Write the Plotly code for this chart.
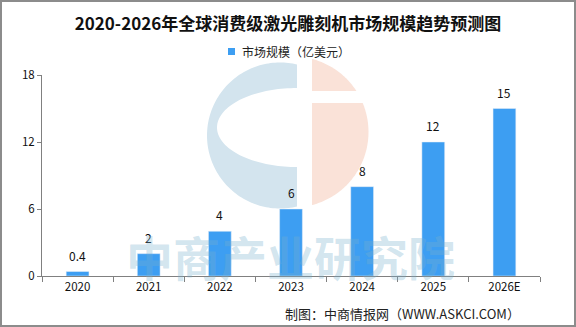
import numpy as np
import plotly.graph_objects as go

# Market size data (亿美元)
years = ["2020", "2021", "2022", "2023", "2024", "2025", "2026E"]
market_size = [0.4, 2, 4, 6, 8, 12, 15]
y_ticks = [0, 6, 12, 18]

title_text = "2020-2026年全球消费级激光雕刻机市场规模趋势预测图"
series_name = "市场规模（亿美元）"
source_text = "制图：中商情报网（WWW.ASKCI.COM）"
watermark_text = "中商产业研究院"

W, H = 576, 327
ML, MR, MT, MB = 42, 36, 75, 51
PW, PH = W - ML - MR, H - MT - MB
BAR_COLOR = "#3d9ef2"
FONT = "Noto Sans CJK SC"


def px(x):
    """pixel x -> paper x"""
    return (x - ML) / PW


def py(y):
    """pixel y -> paper y"""
    return (H - MB - y) / PH


def path_from(points, close=True):
    s = "M " + " L ".join(f"{px(x):.5f},{py(y):.5f}" for x, y in points)
    return s + (" Z" if close else "")


fig = go.Figure()
fig.add_trace(go.Bar(
    x=years, y=market_size, marker_color=BAR_COLOR,
    name=series_name, showlegend=False,
))

shapes = []

# background logo: blue "C" with elliptical cut-out
cx, cy, r = 280, 135.5, 73
a = np.degrees(np.arccos((297 - cx) / r))
phi = np.radians(np.linspace(a, 360 - a, 120))
outer = [(cx + r * np.cos(t), cy - r * np.sin(t)) for t in phi]
phi_in = np.radians(np.linspace(90, 270, 80))
inner = [(297 + 80 * np.cos(t), 127.5 - 39.5 * np.sin(t)) for t in phi_in]
shapes.append(dict(type="path", xref="paper", yref="paper", layer="below",
                   path=path_from(outer) + " " + path_from(inner),
                   fillrule="evenodd", fillcolor="#d3e4ee", line_width=0))

# background logo: peach half disc with a horizontal gap
pcx, pcy, pr = 293, 132, 75.5
b = np.degrees(np.arccos((312 - pcx) / pr))
phi_p = np.radians(np.linspace(b, -b, 120))
pink = [(pcx + pr * np.cos(t), pcy - pr * np.sin(t)) for t in phi_p]
shapes.append(dict(type="path", xref="paper", yref="paper", layer="below",
                   path=path_from(pink), fillcolor="#fae2d8", line_width=0))
shapes.append(dict(type="rect", xref="paper", yref="paper", layer="below",
                   x0=px(310), x1=px(372), y0=py(91), y1=py(103),
                   fillcolor="white", line_width=0))

# legend marker
shapes.append(dict(type="rect", xref="paper", yref="paper",
                   x0=px(228), x1=px(235), y0=py(48), y1=py(55),
                   fillcolor=BAR_COLOR, line_width=0))

# outer frame
shapes.append(dict(type="rect", xref="paper", yref="paper",
                   x0=px(1), x1=px(575), y0=py(1), y1=py(326),
                   line=dict(color="#8c8c8c", width=2), fillcolor="rgba(0,0,0,0)"))

annotations = []
# value labels above bars (x given as category index)
for i, v in enumerate(market_size):
    annotations.append(dict(x=i, y=v, xref="x", yref="y", text=f"{v:g}",
                            showarrow=False, yanchor="bottom", yshift=6,
                            font=dict(family=FONT, size=12, color="#111")))

# legend text
annotations.append(dict(x=px(240), y=py(52), xref="paper", yref="paper",
                        text=series_name, showarrow=False, xanchor="left",
                        yanchor="middle",
                        font=dict(family=FONT, size=12, color="#222")))

# source note
annotations.append(dict(x=px(522), y=py(313), xref="paper", yref="paper",
                        text=source_text, showarrow=False, xanchor="right",
                        yanchor="middle",
                        font=dict(family=FONT, size=13, color="#222")))

# watermark
annotations.append(dict(x=px(290), y=py(255), xref="paper", yref="paper",
                        text=f"<b>{watermark_text}</b>", showarrow=False,
                        xanchor="center", yanchor="middle",
                        font=dict(family=FONT, size=47,
                                  color="rgba(120,175,205,0.33)")))

fig.update_layout(
    width=W, height=H,
    margin=dict(l=ML, r=MR, t=MT, b=MB, pad=0),
    paper_bgcolor="white", plot_bgcolor="rgba(0,0,0,0)",
    title=dict(text=f"<b>{title_text}</b>", x=0.5, xref="container",
               xanchor="center", y=1 - 24 / H, yref="container",
               yanchor="middle",
               font=dict(family=FONT, size=17, color="#111")),
    bargap=0.68,
    shapes=shapes,
    annotations=annotations,
    showlegend=False,
    xaxis=dict(type="category", categoryorder="array", categoryarray=years,
               range=[-0.5, len(years) - 0.5], autorange=False,
               showline=True, linecolor="#808080",
               linewidth=1, ticks="outside", tickson="boundaries",
               ticklen=5, tickcolor="#808080", showgrid=False,
               tickfont=dict(family=FONT, size=11.5, color="#111"),
               fixedrange=True),
    yaxis=dict(range=[0, 18], tickvals=y_ticks, showline=True,
               linecolor="#808080", linewidth=1, ticks="outside",
               ticklen=4, tickcolor="#808080", showgrid=False,
               zeroline=False,
               tickfont=dict(family=FONT, size=11.5, color="#111"),
               fixedrange=True),
)

fig.write_html("out.html", config={"displayModeBar": False})
